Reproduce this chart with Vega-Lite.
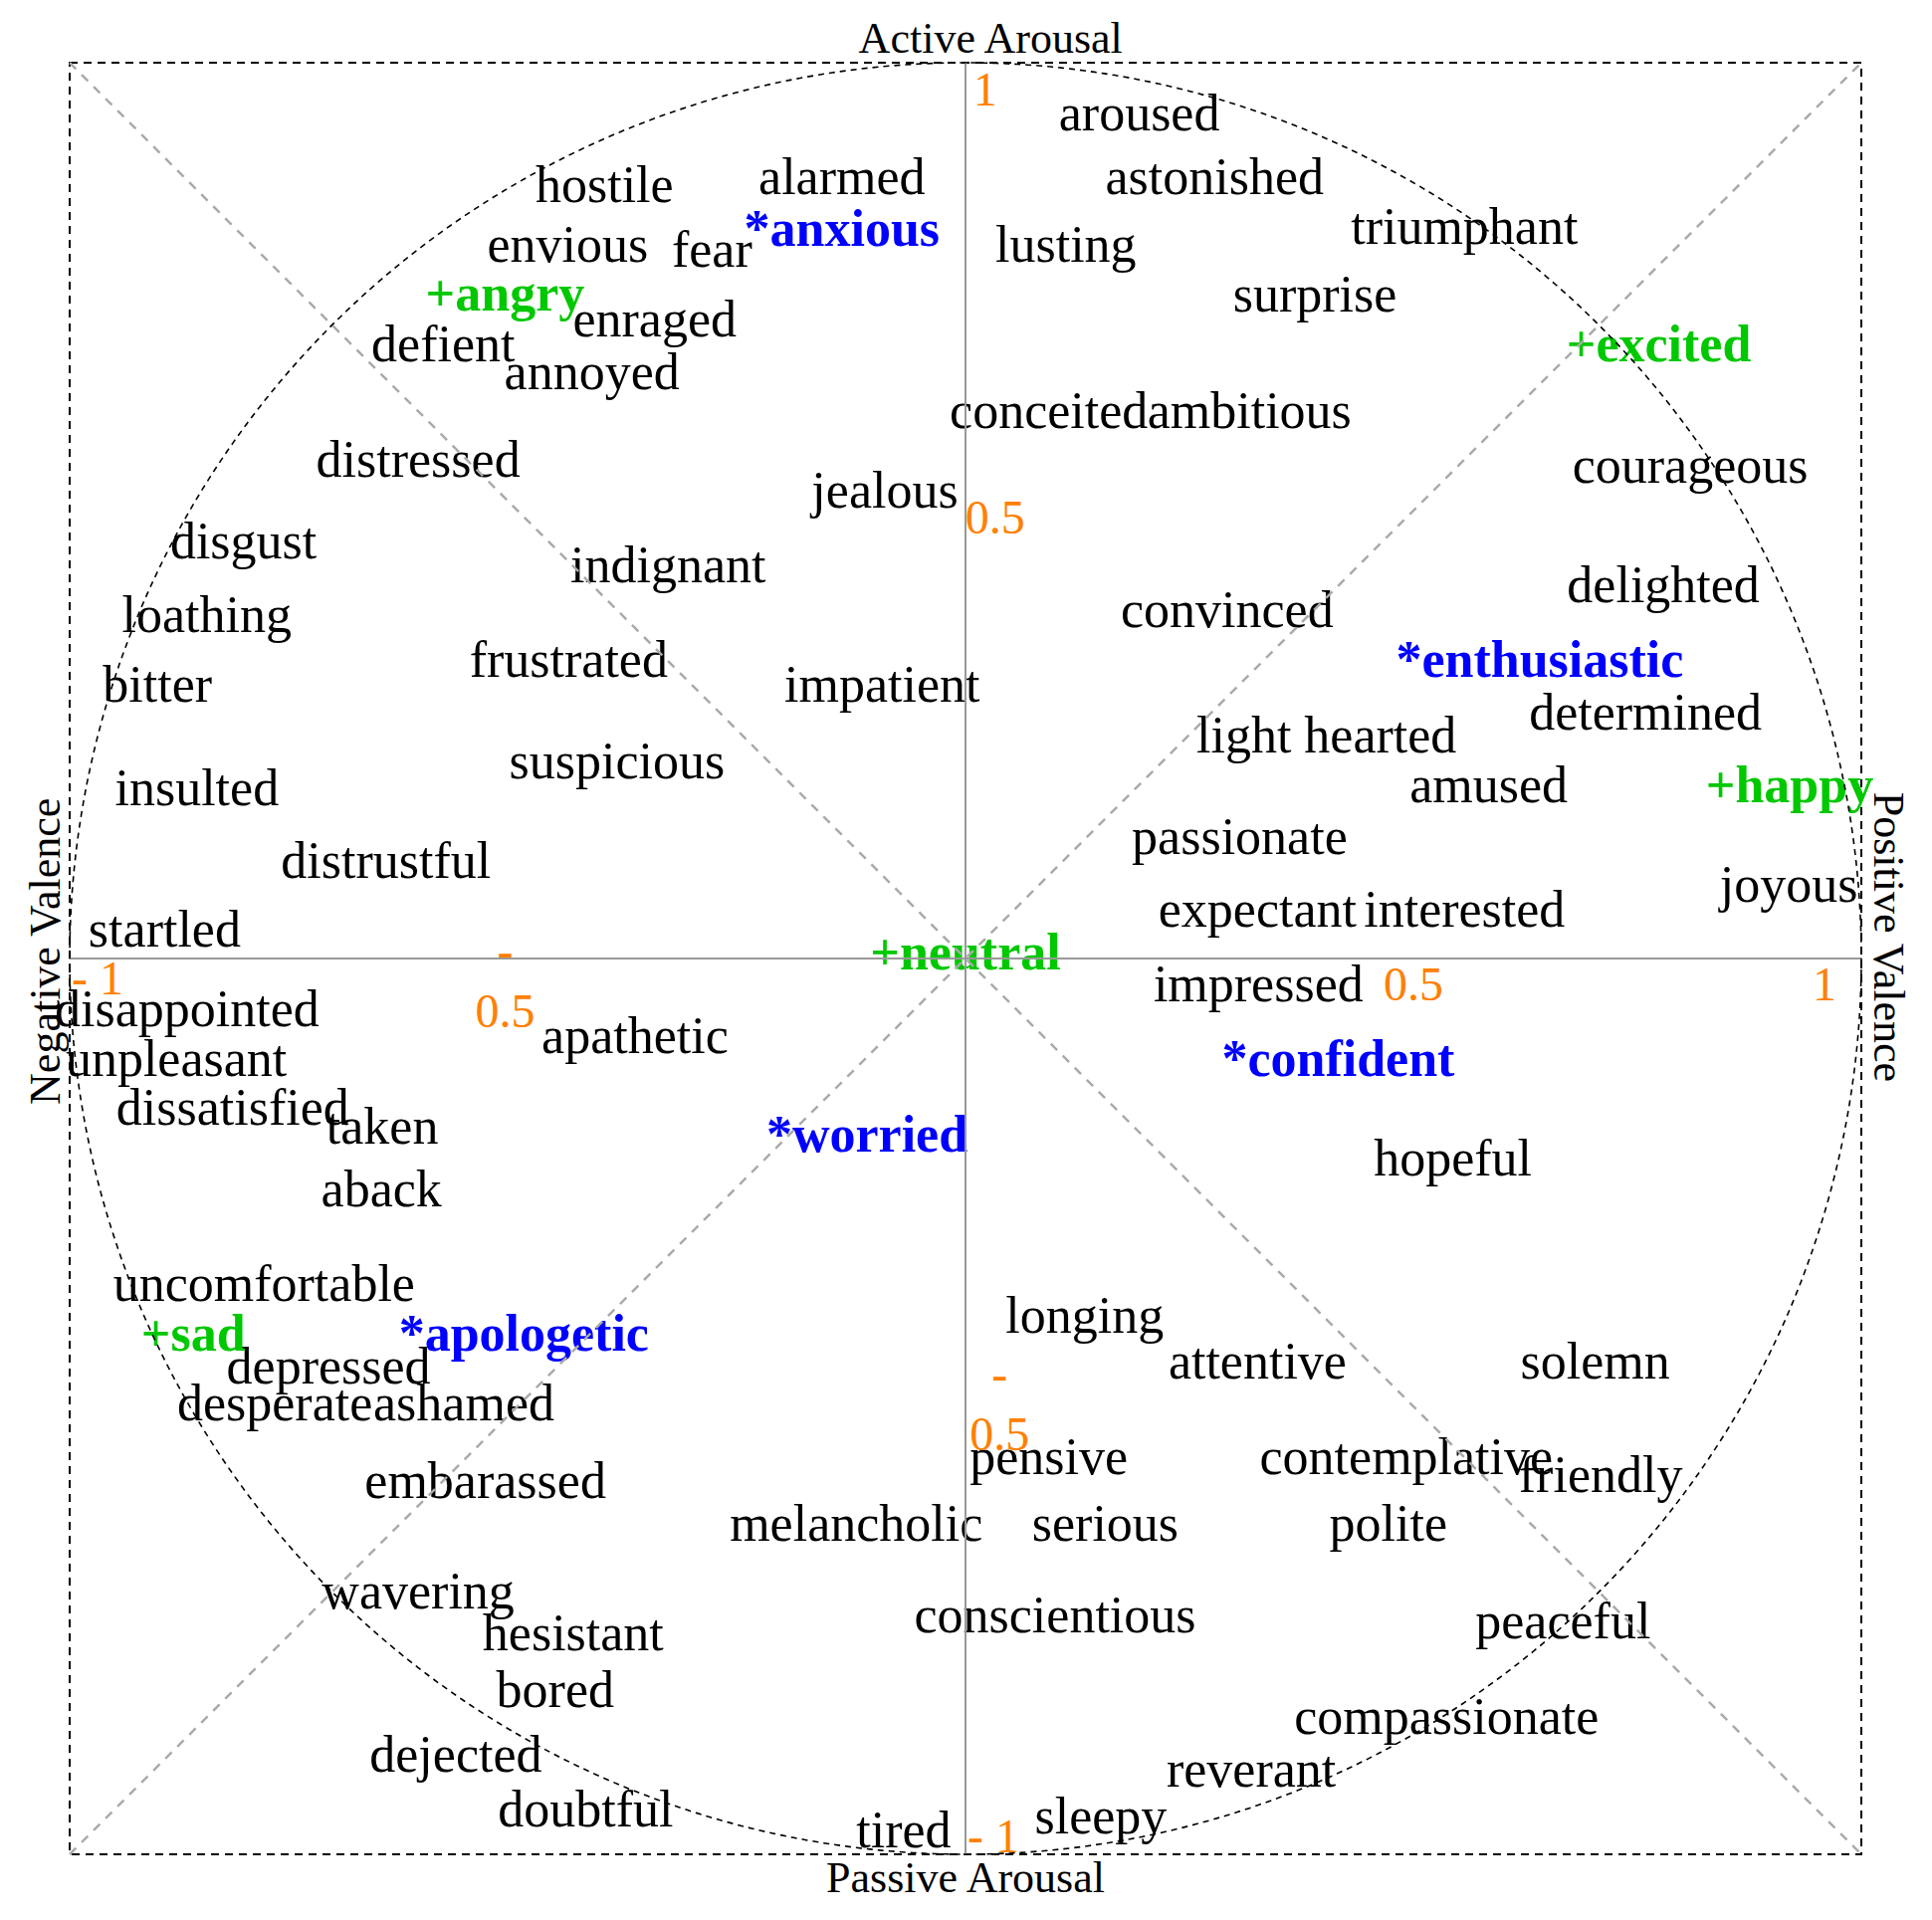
{
  "$schema": "https://vega.github.io/schema/vega-lite/v6.json",
  "width": 1800,
  "height": 1800,
  "autosize": {"type": "none"},
  "padding": {"left": 70, "top": 63, "right": 71, "bottom": 66},
  "background": "white",
  "config": {"view": {"stroke": "#000000", "strokeDash": [8, 6], "strokeWidth": 2}},
  "datasets": {
    "words": [
      {"label": "hostile", "x": -0.403, "y": 0.845},
      {"label": "envious", "x": -0.444, "y": 0.778},
      {"label": "enraged", "x": -0.347, "y": 0.694},
      {"label": "defient", "x": -0.583, "y": 0.667},
      {"label": "annoyed", "x": -0.417, "y": 0.636},
      {"label": "distressed", "x": -0.611, "y": 0.538},
      {"label": "aroused", "x": 0.194, "y": 0.925},
      {"label": "alarmed", "x": -0.138, "y": 0.853},
      {"label": "astonished", "x": 0.278, "y": 0.853},
      {"label": "lusting", "x": 0.112, "y": 0.778},
      {"label": "fear", "x": -0.283, "y": 0.772},
      {"label": "surprise", "x": 0.39, "y": 0.722},
      {"label": "conceited", "x": 0.093, "y": 0.592},
      {"label": "ambitious", "x": 0.317, "y": 0.592},
      {"label": "jealous", "x": -0.09, "y": 0.503},
      {"label": "triumphant", "x": 0.557, "y": 0.798},
      {"label": "courageous", "x": 0.809, "y": 0.531},
      {"label": "disgust", "x": -0.806, "y": 0.447},
      {"label": "loathing", "x": -0.847, "y": 0.365},
      {"label": "bitter", "x": -0.902, "y": 0.287},
      {"label": "insulted", "x": -0.858, "y": 0.171},
      {"label": "indignant", "x": -0.332, "y": 0.42},
      {"label": "frustrated", "x": -0.443, "y": 0.314},
      {"label": "impatient", "x": -0.093, "y": 0.287},
      {"label": "suspicious", "x": -0.389, "y": 0.201},
      {"label": "distrustful", "x": -0.647, "y": 0.09},
      {"label": "startled", "x": -0.894, "y": 0.013},
      {"label": "convinced", "x": 0.292, "y": 0.37},
      {"label": "delighted", "x": 0.779, "y": 0.398},
      {"label": "light hearted", "x": 0.403, "y": 0.23},
      {"label": "determined", "x": 0.759, "y": 0.256},
      {"label": "amused", "x": 0.584, "y": 0.175},
      {"label": "passionate", "x": 0.306, "y": 0.117},
      {"label": "joyous", "x": 0.919, "y": 0.063},
      {"label": "expectant", "x": 0.326, "y": 0.036},
      {"label": "interested", "x": 0.557, "y": 0.036},
      {"label": "impressed", "x": 0.327, "y": -0.048},
      {"label": "hopeful", "x": 0.544, "y": -0.242},
      {"label": "disappointed", "x": -0.869, "y": -0.076},
      {"label": "unpleasant", "x": -0.881, "y": -0.131},
      {"label": "dissatisfied", "x": -0.818, "y": -0.186},
      {"label": "taken", "x": -0.651, "y": -0.207},
      {"label": "aback", "x": -0.652, "y": -0.277},
      {"label": "apathetic", "x": -0.369, "y": -0.106},
      {"label": "uncomfortable", "x": -0.783, "y": -0.382},
      {"label": "depressed", "x": -0.711, "y": -0.474},
      {"label": "desperate", "x": -0.771, "y": -0.516},
      {"label": "ashamed", "x": -0.56, "y": -0.516},
      {"label": "embarassed", "x": -0.536, "y": -0.602},
      {"label": "wavering", "x": -0.611, "y": -0.726},
      {"label": "hesistant", "x": -0.438, "y": -0.772},
      {"label": "bored", "x": -0.458, "y": -0.836},
      {"label": "dejected", "x": -0.569, "y": -0.908},
      {"label": "doubtful", "x": -0.424, "y": -0.969},
      {"label": "longing", "x": 0.133, "y": -0.418},
      {"label": "attentive", "x": 0.326, "y": -0.469},
      {"label": "solemn", "x": 0.703, "y": -0.469},
      {"label": "pensive", "x": 0.093, "y": -0.576},
      {"label": "contemplative", "x": 0.492, "y": -0.576},
      {"label": "friendly", "x": 0.709, "y": -0.596},
      {"label": "melancholic", "x": -0.122, "y": -0.65},
      {"label": "serious", "x": 0.156, "y": -0.65},
      {"label": "polite", "x": 0.472, "y": -0.65},
      {"label": "conscientious", "x": 0.1, "y": -0.752},
      {"label": "peaceful", "x": 0.667, "y": -0.759},
      {"label": "compassionate", "x": 0.537, "y": -0.866},
      {"label": "reverant", "x": 0.319, "y": -0.924},
      {"label": "sleepy", "x": 0.151, "y": -0.977},
      {"label": "tired", "x": -0.069, "y": -0.992}
    ],
    "bold": [
      {"label": "+angry", "kind": "plus", "x": -0.514, "y": 0.723},
      {"label": "*anxious", "kind": "star", "x": -0.138, "y": 0.796},
      {"label": "+excited", "kind": "plus", "x": 0.774, "y": 0.667},
      {"label": "*enthusiastic", "kind": "star", "x": 0.641, "y": 0.314},
      {"label": "+happy", "kind": "plus", "x": 0.92, "y": 0.174},
      {"label": "+neutral", "kind": "plus", "x": 0.0, "y": -0.012},
      {"label": "*confident", "kind": "star", "x": 0.416, "y": -0.131},
      {"label": "*worried", "kind": "star", "x": -0.11, "y": -0.215},
      {"label": "+sad", "kind": "plus", "x": -0.862, "y": -0.438},
      {"label": "*apologetic", "kind": "star", "x": -0.493, "y": -0.438}
    ],
    "ticks": [
      {"label": "1", "x": 0.022, "y": 0.952},
      {"label": "0.5", "x": 0.033, "y": 0.474},
      {"label": "0.5", "x": 0.5, "y": -0.047},
      {"label": "1", "x": 0.959, "y": -0.047},
      {"label": "- 1", "x": -0.969, "y": -0.04},
      {"label": "-\n0.5", "x": -0.514, "y": -0.01},
      {"label": "-\n0.5", "x": 0.038, "y": -0.482},
      {"label": "- 1", "x": 0.031, "y": -0.998}
    ],
    "titles": [
      {"label": "Active Arousal", "x": 0.028, "y": 1.011},
      {"label": "Passive Arousal", "x": 0.0, "y": -1.042}
    ],
    "axes": [
      {"x": 0, "y": -1, "x2": 0, "y2": 1},
      {"x": -1, "y": 0, "x2": 1, "y2": 0}
    ],
    "diagonals": [
      {"x": -1, "y": -1, "x2": 1, "y2": 1},
      {"x": -1, "y": 1, "x2": 1, "y2": -1}
    ]
  },
  "encoding": {
    "x": {"field": "x", "type": "quantitative", "scale": {"domain": [-1, 1], "nice": false, "zero": false}, "axis": null},
    "y": {"field": "y", "type": "quantitative", "scale": {"domain": [-1, 1], "nice": false, "zero": false}, "axis": null}
  },
  "layer": [
    {
      "data": {"name": "words"},
      "mark": {"type": "text", "font": "Liberation Serif", "fontSize": 52, "align": "center", "baseline": "alphabetic", "color": "#000000"},
      "encoding": {"text": {"field": "label", "type": "nominal"}}
    },
    {
      "data": {"name": "bold"},
      "mark": {"type": "text", "font": "Liberation Serif", "fontSize": 52, "fontWeight": "bold", "align": "center", "baseline": "alphabetic"},
      "encoding": {
        "text": {"field": "label", "type": "nominal"},
        "color": {"field": "kind", "type": "nominal", "scale": {"domain": ["plus", "star"], "range": ["#00c800", "#0000ff"]}, "legend": null}
      }
    },
    {
      "data": {"name": "ticks"},
      "mark": {"type": "text", "font": "Liberation Serif", "fontSize": 48, "align": "center", "baseline": "alphabetic", "color": "#ff8000", "lineBreak": "\n", "lineHeight": 60},
      "encoding": {"text": {"field": "label", "type": "nominal"}}
    },
    {
      "data": {"name": "titles"},
      "mark": {"type": "text", "font": "Liberation Serif", "fontSize": 44, "align": "center", "baseline": "alphabetic", "color": "#000000"},
      "encoding": {"text": {"field": "label", "type": "nominal"}}
    },
    {
      "data": {"values": [{"label": "Negative Valence", "x": -1.011, "y": 0.008}]},
      "mark": {"type": "text", "font": "Liberation Serif", "fontSize": 44, "align": "center", "baseline": "alphabetic", "angle": 270, "color": "#000000"},
      "encoding": {"text": {"field": "label", "type": "nominal"}}
    },
    {
      "data": {"values": [{"label": "Positive Valence", "x": 1.014, "y": 0.024}]},
      "mark": {"type": "text", "font": "Liberation Serif", "fontSize": 44, "align": "center", "baseline": "alphabetic", "angle": 90, "color": "#000000"},
      "encoding": {"text": {"field": "label", "type": "nominal"}}
    },
    {
      "data": {"name": "axes"},
      "mark": {"type": "rule", "color": "#999999", "strokeWidth": 2},
      "encoding": {"x2": {"field": "x2"}, "y2": {"field": "y2"}}
    },
    {
      "data": {"name": "diagonals"},
      "mark": {"type": "rule", "color": "#aaaaaa", "strokeWidth": 2.5, "strokeDash": [9, 8]},
      "encoding": {"x2": {"field": "x2"}, "y2": {"field": "y2"}}
    },
    {
      "data": {"values": [{"x": 0, "y": 0}]},
      "mark": {"type": "point", "shape": "circle", "filled": false, "size": 3240000, "stroke": "#000000", "strokeWidth": 1.6, "strokeDash": [6, 5], "opacity": 1}
    }
  ]
}
